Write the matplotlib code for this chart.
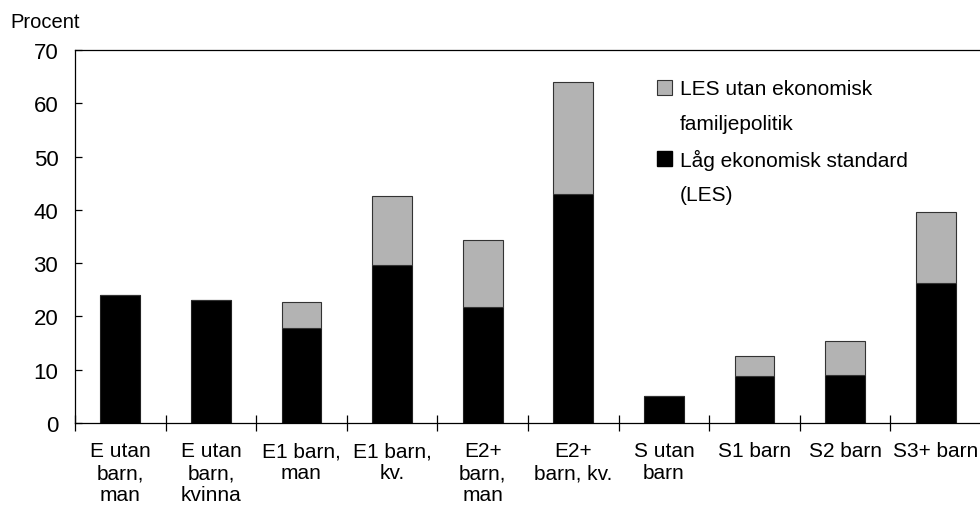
import numpy as np
import matplotlib
matplotlib.use('Agg')
import matplotlib.pyplot as plt
from matplotlib.patches import Patch

plt.rcParams['font.family'] = ['Liberation Sans', 'DejaVu Sans']

# kategorier och värden (procent)
kategorier = ['E utan\nbarn,\nman', 'E utan\nbarn,\nkvinna', 'E1 barn,\nman', 'E1 barn,\nkv.',
              'E2+\nbarn,\nman', 'E2+\nbarn, kv.', 'S utan\nbarn', 'S1 barn', 'S2 barn', 'S3+ barn']
les = [24.0, 23.1, 17.9, 29.6, 21.8, 43.0, 5.1, 8.8, 9.1, 26.3]
les_utan_fampol = [24.0, 23.1, 22.8, 42.6, 34.3, 64.0, 5.1, 12.6, 15.3, 39.6]

fig = plt.figure(figsize=(9.8, 5.06), dpi=100)
ax = fig.add_axes([75/980, 1-424/506, 906/980, 373/506])

x = np.arange(len(kategorier))
les = np.array(les)
tot = np.array(les_utan_fampol)

ax.bar(x, les, width=0.44, color='black', edgecolor='#222222', linewidth=0.8)
ax.bar(x, tot-les, bottom=les, width=0.44, color='#b3b3b3', edgecolor='#333333', linewidth=0.8)

ax.set_xlim(-0.5, len(kategorier)-0.5)
ax.set_ylim(0, 70)
ax.set_yticks(np.arange(0, 71, 10))
ax.tick_params(axis='y', direction='in', length=5, width=0.9, pad=12, labelsize=16)

ax.set_xticks(x)
ax.set_xticklabels(kategorier, fontsize=15, linespacing=1.2)
ax.tick_params(axis='x', which='major', length=0, pad=13)
ax.set_xticks(np.arange(-0.5, len(kategorier)), minor=True)
ax.tick_params(axis='x', which='minor', direction='inout', length=12, width=0.9)

for s in ax.spines.values():
    s.set_linewidth(0.9)

fig.text(10/980, 1-22/506, 'Procent', fontsize=14.5, va='center', ha='left')

h = [Patch(facecolor='#b3b3b3', edgecolor='#333333', linewidth=0.8),
     Patch(facecolor='none', edgecolor='none'),
     Patch(facecolor='black', edgecolor='black'),
     Patch(facecolor='none', edgecolor='none')]
lab = ['LES utan ekonomisk', 'familjepolitik', 'Låg ekonomisk standard', '(LES)']
ax.legend(h, lab, loc='upper left', bbox_to_anchor=(0.642, 0.921), frameon=False,
          fontsize=15, handlelength=0.75, handleheight=0.75, handletextpad=0.35,
          labelspacing=0.75, borderpad=0, borderaxespad=0)

fig.savefig('out.png', dpi=100)
